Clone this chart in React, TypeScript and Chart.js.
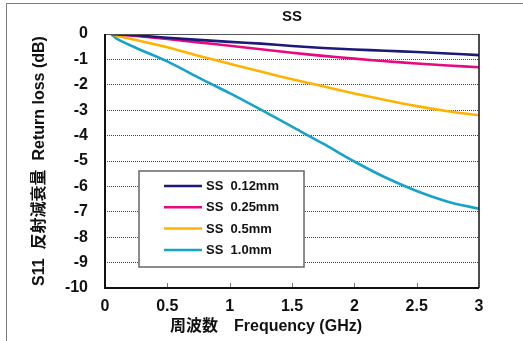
import React, { useEffect, useRef } from "react";
import { Chart, registerables } from "chart.js";

Chart.register(...registerables);

const FREQ = [0.05, 0.1, 0.25, 0.5, 0.75, 1.0, 1.25, 1.5, 1.75, 2.0, 2.25, 2.5, 2.75, 3.0];
const SS_012 = [0, -0.01, -0.05, -0.15, -0.23, -0.31, -0.38, -0.47, -0.55, -0.61, -0.66, -0.71, -0.77, -0.83];
const SS_025 = [0, -0.02, -0.08, -0.2, -0.33, -0.46, -0.6, -0.74, -0.86, -0.97, -1.07, -1.16, -1.24, -1.31];
const SS_05 = [0, -0.08, -0.24, -0.52, -0.86, -1.17, -1.48, -1.78, -2.06, -2.34, -2.6, -2.84, -3.04, -3.2];
const SS_10 = [0, -0.2, -0.55, -1.08, -1.72, -2.33, -2.98, -3.65, -4.32, -5.02, -5.65, -6.18, -6.6, -6.88];

const SERIES_LABELS = ["SS  0.12mm", "SS  0.25mm", "SS  0.5mm", "SS  1.0mm"];
const SERIES_COLORS = ["#1c1a78", "#e8087f", "#ffb300", "#17a3c9"];
const X_TICKS = [0, 0.5, 1, 1.5, 2, 2.5, 3];
const Y_TICKS = [0, -1, -2, -3, -4, -5, -6, -7, -8, -9, -10];

const TITLE = "SS";
const X_TITLE = "周波数　Frequency (GHz)";
const Y_TITLE = "S11  反射減衰量  Return loss (dB)";

const FONT = "'Liberation Sans', 'Noto Sans CJK JP', Arial, sans-serif";

const decorPlugin = {
  id: "decor",
  afterDraw(chart: any) {
    const ctx = chart.ctx;
    const { left, right, top, bottom } = chart.chartArea;
    const xs = chart.scales.x;
    ctx.save();
    // inward x ticks
    ctx.strokeStyle = "#777";
    ctx.lineWidth = 1;
    for (const v of X_TICKS) {
      if (v === X_TICKS[0] || v === X_TICKS[X_TICKS.length - 1]) continue;
      const px = Math.round(xs.getPixelForValue(v)) + 0.5;
      ctx.beginPath();
      ctx.moveTo(px, bottom);
      ctx.lineTo(px, bottom - 5);
      ctx.stroke();
    }
    // frame of plot
    ctx.strokeStyle = "#555";
    ctx.lineWidth = 1;
    ctx.beginPath();
    ctx.moveTo(left, top + 0.5);
    ctx.lineTo(right, top + 0.5);
    ctx.stroke();
    ctx.strokeStyle = "#111";
    ctx.lineWidth = 1.5;
    ctx.beginPath();
    ctx.moveTo(right, top);
    ctx.lineTo(right, bottom);
    ctx.stroke();
    ctx.lineWidth = 2;
    ctx.beginPath();
    ctx.moveTo(left, top);
    ctx.lineTo(left, bottom);
    ctx.lineTo(right, bottom);
    ctx.stroke();

    // legend box
    const bx = 139, by = 171, bw = 165, bh = 96;
    ctx.fillStyle = "#fff";
    ctx.fillRect(bx, by, bw, bh);
    ctx.strokeStyle = "#666";
    ctx.lineWidth = 1.5;
    ctx.strokeRect(bx, by, bw, bh);
    ctx.font = "bold 13px " + FONT;
    ctx.textBaseline = "middle";
    ctx.textAlign = "left";
    chart.data.datasets.forEach((ds: any, i: number) => {
      const y = by + 15 + i * 21.3;
      ctx.strokeStyle = ds.borderColor;
      ctx.lineWidth = 2.5;
      ctx.beginPath();
      ctx.moveTo(164, y);
      ctx.lineTo(202, y);
      ctx.stroke();
      ctx.fillStyle = "#111";
      ctx.fillText(ds.label, 206, y + 0.5);
    });

    // x axis title
    ctx.font = "bold 16px " + FONT;
    ctx.fillStyle = "#111";
    ctx.textAlign = "left";
    ctx.textBaseline = "middle";
    ctx.fillText(X_TITLE, 170, 327);
    ctx.restore();
  },
};

export default function App() {
  const ref = useRef<HTMLCanvasElement>(null);
  useEffect(() => {
    if (!ref.current) return;
    const all = [SS_012, SS_025, SS_05, SS_10];
    const chart = new Chart(ref.current, {
      type: "line",
      data: {
        datasets: all.map((arr, i) => ({
          label: SERIES_LABELS[i],
          data: FREQ.map((f, j) => ({ x: f, y: arr[j] })),
          borderColor: SERIES_COLORS[i],
          backgroundColor: SERIES_COLORS[i],
          borderWidth: 2.6,
          pointRadius: 0,
          tension: 0.3,
          fill: false,
        })),
      },
      options: {
        responsive: false,
        animation: false,
        events: [],
        layout: { padding: { left: 0, right: 44, top: 0, bottom: 0 } },
        plugins: {
          legend: { display: false },
          tooltip: { enabled: false },
          title: {
            display: true,
            text: TITLE,
            fullSize: false,
            color: "#111",
            font: { family: FONT, size: 15, weight: "bold" },
            padding: { top: 8, bottom: 8 },
          },
        },
        scales: {
          x: {
            type: "linear",
            min: 0,
            max: 3,
            afterBuildTicks: (s: any) => {
              s.ticks = X_TICKS.map((v) => ({ value: v }));
            },
            afterFit: (s: any) => {
              s.height = 53;
            },
            grid: { display: false, drawTicks: false },
            border: { display: false },
            ticks: {
              padding: 9,
              color: "#111",
              font: { family: FONT, size: 16, weight: "bold" },
              callback: (v: any) => String(v),
              maxRotation: 0,
            },
          },
          y: {
            type: "linear",
            min: -10,
            max: 0,
            afterBuildTicks: (s: any) => {
              s.ticks = Y_TICKS.map((v) => ({ value: v }));
            },
            afterFit: (s: any) => {
              s.width = 105;
            },
            grid: {
              drawTicks: false,
              lineWidth: 1,
              color: (c: any) =>
                c.tick && (c.tick.value === 0 || c.tick.value === -10) ? "rgba(0,0,0,0)" : "#444",
            },
            border: { display: false, dash: [1, 1] },
            ticks: {
              padding: 17,
              color: "#111",
              font: { family: FONT, size: 16, weight: "bold" },
              callback: (v: any) => String(v),
            },
            title: {
              display: true,
              text: Y_TITLE,
              color: "#111",
              font: { family: FONT, size: 16, weight: "bold" },
              padding: { top: 30, bottom: 0 },
            },
          },
        },
      },
      plugins: [decorPlugin],
    });
    return () => chart.destroy();
  }, []);

  return (
    <div style={{ position: "absolute", left: 0, top: 0, width: 523, height: 341, overflow: "hidden", background: "#fff" }}>
      <div
        style={{
          position: "absolute",
          left: 6,
          top: 3,
          width: 600,
          height: 400,
          borderLeft: "1.5px solid #808080",
          borderTop: "1.5px solid #808080",
          pointerEvents: "none",
        }}
      />
      <canvas ref={ref} width={523} height={341} style={{ position: "absolute", left: 0, top: 0 }} />
    </div>
  );
}
